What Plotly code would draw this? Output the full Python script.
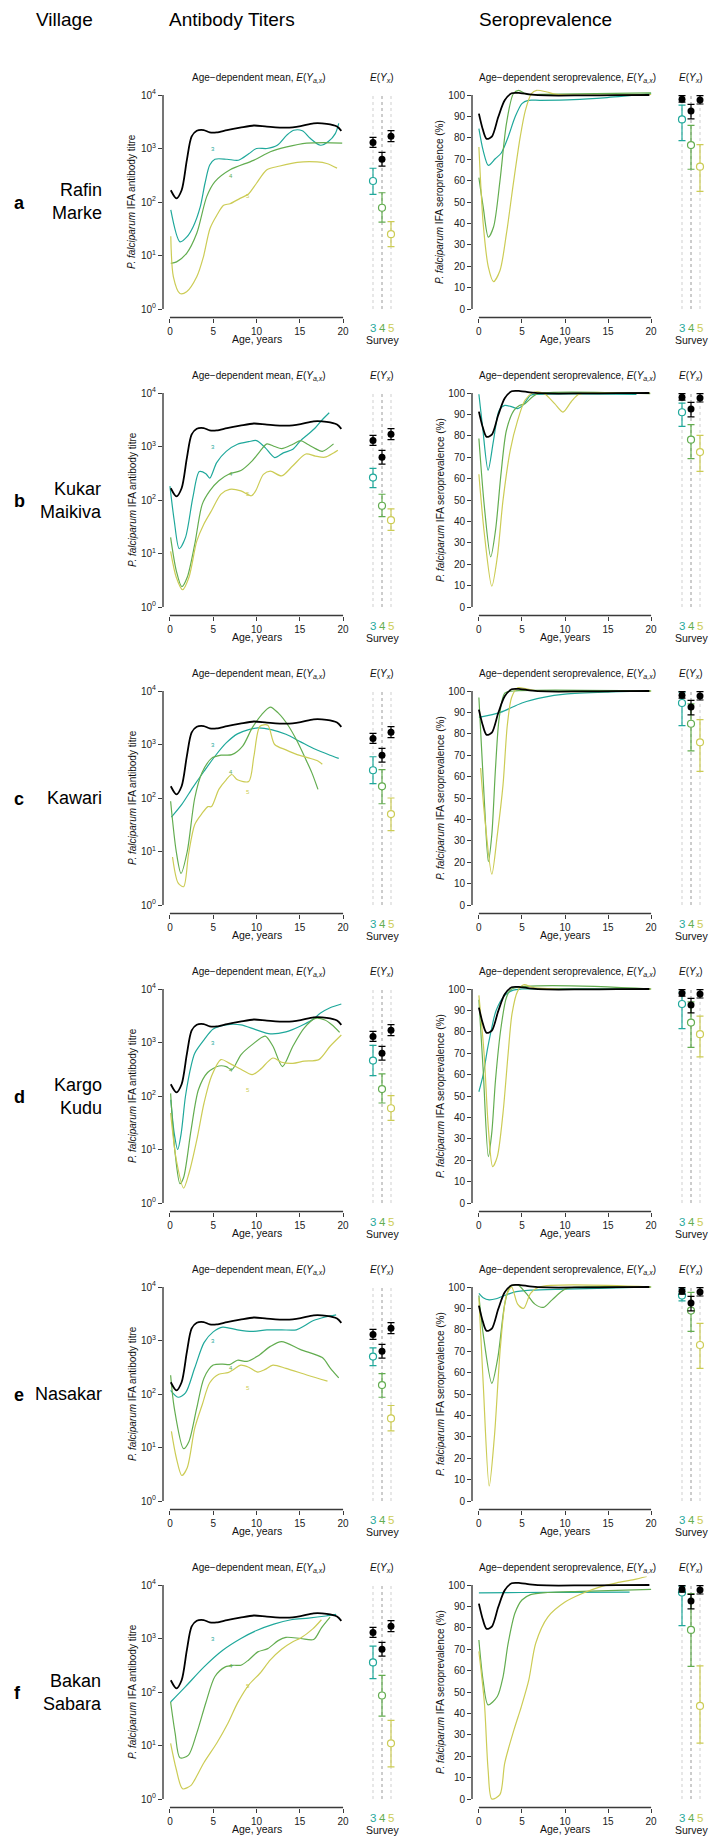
import math
import plotly.graph_objects as go

W, H = 711, 1837
FONT = "Liberation Sans, Arial, sans-serif"
BLACK = "#000000"
TEAL = "#1fa89b"
GREEN = "#63ad50"
YELLOW = "#cccc55"
SURVEY_COLORS = [TEAL, GREEN, YELLOW]

villages = ["Rafin<br>Marke", "Kukar<br>Maikiva", "Kawari", "Kargo<br>Kudu", "Nasakar", "Bakan<br>Sabara"]
letters = ["a", "b", "c", "d", "e", "f"]
surveys = [3, 4, 5]
x_ticks = [0, 5, 10, 15, 20]
titre_ticks = [1, 10, 100, 1000, 10000]
titre_ticktext = ["10<sup>0</sup>", "10<sup>1</sup>", "10<sup>2</sup>", "10<sup>3</sup>", "10<sup>4</sup>"]
sero_ticks = [0, 10, 20, 30, 40, 50, 60, 70, 80, 90, 100]

# ---- overall (black) curves, same in every village ----
all_titre_age = [0.1, 0.75, 1.35, 1.95, 2.5, 3.1, 3.9, 4.6, 5.4, 6.6, 8.1, 9.7, 11.2, 13.5, 15.1, 16.6, 18.1, 19.3, 19.8]
all_titre = [166, 117, 166, 600, 1660, 2140, 2210, 2000, 2000, 2210, 2450, 2690, 2570, 2450, 2630, 2950, 2880, 2570, 2140]
all_sero_age = [0, 0.45, 0.9, 1.5, 2.25, 3.0, 3.8, 4.8, 5.9, 7.9, 12, 16, 19.8]
all_sero = [91.3, 84, 79.5, 80.5, 89.7, 97.5, 100.8, 100.9, 100.3, 99.8, 99.8, 99.9, 100]
all_titre_survey = [1300, 630, 1700]
all_titre_survey_lo = [1050, 470, 1340]
all_titre_survey_hi = [1620, 850, 2150]
all_sero_survey = [98.0, 92.5, 97.7]
all_sero_survey_lo = [96.7, 88.8, 95.8]
all_sero_survey_hi = [99.7, 95.6, 99.7]

# ---- a: Rafin Marke ----
a_t3_age = [0.1, 1.16, 1.93, 2.7, 3.5, 4.05, 4.6, 5.2, 6.6, 7.9, 9.1, 10.0, 11.2, 12.4, 13.5, 14.3, 15.3, 16.2, 17.4, 18.3, 19.1, 19.5]
a_t3 = [71, 18, 22, 35, 81, 224, 490, 630, 630, 603, 794, 1000, 1000, 1150, 1780, 2190, 2140, 1550, 1150, 1350, 1900, 2950]
a_t4_age = [0.1, 0.77, 1.93, 3.1, 4.25, 5.2, 6.95, 9.65, 11.6, 13.5, 15.8, 17.8, 19.9]
a_t4 = [7.1, 7.6, 11, 26, 126, 240, 400, 600, 870, 1070, 1260, 1290, 1260]
a_t5_age = [0.1, 0.4, 1.16, 1.93, 3.1, 3.86, 4.63, 5.4, 6.2, 6.95, 8.1, 9.07, 10.0, 11.2, 12.7, 14.7, 17.0, 18.1, 19.3]
a_t5 = [23, 4, 1.95, 2.1, 4, 9.3, 32, 56, 87, 93, 117, 141, 224, 400, 470, 550, 560, 525, 430]
a_s3_age = [0, 0.5, 1.1, 1.9, 2.6, 3.4, 4.2, 5.0, 5.75, 7.1, 11, 14.9, 20]
a_s3 = [84.3, 74, 67.1, 70.2, 72.9, 80.4, 89.7, 96, 97.5, 97.5, 97.8, 98.8, 100.6]
a_s4_age = [0, 0.5, 1.1, 1.7, 2.45, 3.2, 4.0, 4.6, 5.55, 7.1, 20]
a_s4 = [61.4, 47.7, 33.6, 38.3, 60, 86.6, 100.6, 102.2, 100.3, 100.3, 101]
a_s5_age = [0, 0.5, 1.1, 1.7, 2.45, 3.2, 4.0, 4.8, 5.4, 6.1, 6.7, 7.9, 9.0, 20]
a_s5 = [75.7, 39.9, 19.6, 12.8, 18, 35.2, 58.6, 80.4, 92.8, 100.6, 102.2, 101.4, 100.3, 100.3]
a_titre_survey = [247, 78, 25]
a_titre_survey_lo = [139, 42, 14.6]
a_titre_survey_hi = [427, 149, 43]
a_sero_survey = [88.6, 76.6, 66.5]
a_sero_survey_lo = [78.7, 65.3, 55]
a_sero_survey_hi = [95.3, 85.8, 76.8]

# ---- b: Kukar Maikiva ----
b_t3_age = [0, 0.5, 1.07, 1.8, 2.65, 3.4, 4.15, 4.6, 5.4, 6.5, 7.8, 9.1, 10.0, 11.0, 12.1, 13.1, 14.2, 15.1, 15.9, 16.8, 17.6, 18.4]
b_t3 = [182, 41, 12.3, 20, 112, 340, 310, 257, 500, 810, 1100, 1230, 1290, 955, 620, 760, 890, 1290, 1660, 2240, 3160, 4270]
b_t4_age = [0.08, 0.73, 1.37, 2.0, 2.87, 3.73, 4.6, 5.65, 6.9, 8.2, 9.5, 10.4, 11.2, 12.1, 12.9, 14.2, 15.1, 15.9, 16.8, 17.6, 18.9]
b_t4 = [20, 4.8, 2.4, 3.6, 15, 83, 148, 229, 309, 355, 537, 813, 1120, 1000, 912, 1100, 1290, 1100, 912, 813, 1120]
b_t5_age = [0.08, 0.73, 1.46, 2.2, 3.1, 3.9, 4.8, 5.9, 6.9, 8.2, 9.4, 9.9, 10.8, 11.6, 12.9, 14.2, 15.7, 16.8, 17.9, 18.9, 19.4]
b_t5 = [11, 3.6, 2.1, 3.6, 17, 35, 63, 129, 158, 148, 120, 148, 302, 347, 282, 437, 724, 661, 631, 759, 851]
b_s3_age = [0, 0.43, 1.07, 1.7, 2.36, 3.0, 3.85, 4.5, 5.1, 6.0, 6.85, 18.3]
b_s3 = [99.4, 84.1, 63.9, 77.9, 91.9, 94.2, 93.5, 92.7, 94.2, 98.9, 99.4, 99.4]
b_s4_age = [0, 0.64, 1.37, 1.93, 2.57, 3.2, 4.07, 4.7, 5.35, 6.2, 6.85, 19.9]
b_s4 = [78.7, 46.7, 23.4, 35.8, 62.3, 82.6, 91.9, 94.2, 95, 98.1, 99.7, 99.7]
b_s5_age = [0, 0.64, 1.5, 2.14, 2.8, 3.64, 4.5, 5.35, 6.2, 6.85, 7.7, 8.8, 9.76, 10.7, 11.6, 13.3, 19.9]
b_s5 = [62, 34, 9.7, 23.4, 49.8, 73.2, 87.2, 96.6, 100, 100.5, 99.4, 95, 91.1, 95.8, 99.4, 100, 100]
b_titre_survey = [263, 78, 42]
b_titre_survey_lo = [171, 49, 27]
b_titre_survey_hi = [390, 128, 68]
b_sero_survey = [91, 78.2, 72.4]
b_sero_survey_lo = [84.4, 69.3, 63.4]
b_sero_survey_hi = [95.3, 85.2, 80.2]

# ---- c: Kawari ----
c_t3_age = [0.17, 1.37, 2.65, 3.94, 5.2, 6.5, 7.8, 9.1, 10.15, 11.7, 13.4, 15.1, 16.8, 18.5, 19.5]
c_t3 = [44, 76, 158, 316, 603, 1070, 1580, 1900, 2040, 1900, 1550, 1120, 813, 631, 550]
c_t4_age = [0.08, 0.73, 1.28, 2.0, 2.87, 3.7, 4.8, 5.9, 7.15, 8.4, 9.5, 10.6, 11.6, 12.5, 13.6, 14.7, 15.7, 16.4, 17.1]
c_t4 = [87, 10, 3.9, 10, 100, 295, 550, 631, 646, 933, 2040, 3630, 5010, 3890, 2340, 1150, 525, 295, 145]
c_t5_age = [0.3, 0.94, 1.58, 2.14, 2.87, 3.73, 4.4, 4.8, 5.65, 6.5, 7.15, 7.8, 9.1, 9.7, 10.4, 11.3, 12.1, 13.4, 14.7, 16.0, 17.1, 17.6]
c_t5 = [7.9, 2.6, 2.2, 8.7, 32, 52, 69, 69, 145, 219, 275, 219, 204, 603, 2190, 2290, 1000, 794, 646, 562, 490, 427]
c_s3_age = [0, 2.5, 5, 7.5, 10, 15, 20]
c_s3 = [87.7, 90, 94.4, 97, 98.5, 99.5, 100]
c_s4_age = [0, 0.64, 1.1, 1.5, 1.93, 2.36, 3.0, 4, 20]
c_s4 = [97, 48, 20.3, 32.8, 64, 87.4, 99, 100, 100]
c_s5_age = [0.2, 0.7, 1.5, 2.14, 2.8, 3.3, 3.8, 4.5, 5.5, 7, 20]
c_s5 = [64, 40, 14.4, 32.8, 56, 84, 97, 101.5, 101, 100, 100]
c_titre_survey = [330, 165, 50]
c_titre_survey_lo = [185, 78, 24.6]
c_titre_survey_hi = [590, 340, 100]
c_sero_survey = [94.4, 84.7, 76]
c_sero_survey_lo = [83.8, 72, 62.4]
c_sero_survey_hi = [99.5, 94, 86.6]

# ---- d: Kargo Kudu ----
d_t3_age = [0.1, 0.5, 0.9, 1.3, 1.8, 2.5, 2.87, 3.94, 5.0, 6.5, 8.2, 9.9, 11.6, 13.4, 15.1, 16.4, 17.4, 18.5, 19.8]
d_t3 = [85, 20, 10, 20, 100, 398, 631, 1120, 1780, 2140, 2140, 1740, 1450, 1580, 2040, 2630, 3550, 4470, 5250]
d_t4_age = [0.08, 0.6, 1.16, 1.58, 2.44, 3.3, 4.35, 5.65, 6.5, 7.15, 8.2, 9.5, 11.0, 11.9, 13.0, 14.2, 15.5, 16.8, 17.9, 18.7, 19.6]
d_t4 = [112, 8.5, 2.3, 3.0, 23, 132, 275, 363, 355, 309, 589, 912, 1320, 851, 355, 851, 1860, 2820, 2630, 2140, 1550]
d_t5_age = [0.08, 0.73, 1.58, 2.2, 3.1, 3.94, 4.8, 5.9, 6.9, 8.2, 9.5, 10.4, 11.9, 12.9, 14.2, 15.5, 17.2, 18.5, 19.8]
d_t5 = [48, 6.5, 1.9, 3.6, 15, 74, 234, 479, 407, 316, 251, 309, 513, 427, 407, 447, 479, 851, 1380]
d_s3_age = [0, 0.5, 1.0, 1.5, 2.0, 3.0, 4.0, 5.0, 20]
d_s3 = [52, 60, 72, 82, 90, 97, 99.5, 100, 100]
d_s4_age = [0, 0.5, 1.1, 1.5, 1.93, 2.57, 3.2, 3.8, 20]
d_s4 = [95, 62, 21.7, 33, 57.5, 82, 96, 100, 100]
d_s5_age = [0, 0.6, 1.1, 1.6, 2.14, 2.8, 3.4, 3.85, 4.5, 5.2, 6.5, 20]
d_s5 = [97, 70, 35, 17, 21.7, 42, 70, 88.5, 99, 102, 100.5, 100]
d_titre_survey = [460, 135, 59]
d_titre_survey_lo = [240, 74, 35]
d_titre_survey_hi = [880, 260, 102]
d_sero_survey = [93, 84.3, 78.9]
d_sero_survey_lo = [81.5, 72.7, 68.3]
d_sero_survey_hi = [98.5, 94, 87.3]

# ---- e: Nasakar ----
e_t3_age = [0.08, 0.94, 1.8, 2.87, 3.94, 5.0, 6.1, 7.8, 9.5, 11.2, 12.9, 14.6, 15.5, 16.4, 17.5, 18.5, 19.2]
e_t3 = [117, 87, 105, 309, 912, 1450, 1780, 1580, 1480, 1580, 1580, 1580, 1860, 2290, 2630, 2880, 3020]
e_t4_age = [0.08, 0.5, 1.58, 2.2, 3.1, 3.94, 5.0, 6.1, 6.9, 7.8, 8.9, 10.15, 11.6, 12.9, 15.1, 17.6, 18.5, 19.5]
e_t4 = [224, 55, 9.5, 13, 55, 200, 347, 363, 355, 427, 407, 513, 776, 955, 676, 479, 309, 200]
e_t5_age = [0.17, 0.73, 1.37, 2.0, 2.87, 3.73, 4.6, 5.65, 6.7, 7.35, 8.2, 9.1, 10.15, 11.0, 11.9, 13.4, 15.9, 18.2]
e_t5 = [20, 6.5, 3.0, 4.2, 23, 63, 162, 234, 251, 288, 347, 316, 257, 288, 347, 302, 224, 174]
e_s3_age = [0, 0.5, 1.2, 2.0, 3, 4, 6, 10, 15, 20]
e_s3 = [97, 95, 94, 94.5, 96, 97.5, 98.5, 99, 99.5, 100]
e_s4_age = [0, 0.5, 1.5, 2.2, 3.0, 3.6, 4.5, 5.5, 6.5, 7.5, 8.5, 10, 12, 20]
e_s4 = [96, 78, 55, 67, 92, 100, 101, 97, 92, 90.5, 94, 99, 100, 100]
e_s5_age = [0, 0.5, 1.2, 1.8, 2.5, 3.2, 3.8, 4.5, 5.2, 6, 7, 20]
e_s5 = [95, 55, 7, 30, 72, 96, 100, 92, 90, 97, 100, 100]
e_titre_survey = [500, 147, 35]
e_titre_survey_lo = [340, 87, 20.5]
e_titre_survey_hi = [730, 240, 61]
e_sero_survey = [96, 89, 72.9]
e_sero_survey_lo = [93.5, 79.3, 62]
e_sero_survey_hi = [99, 97.5, 83]

# ---- f: Bakan Sabara ----
f_t3_age = [0.08, 1.8, 3.94, 6.1, 8.2, 10, 12, 14, 16, 18, 19.2]
f_t3 = [65, 126, 295, 603, 1000, 1410, 1860, 2240, 2400, 2630, 2820]
f_t4_age = [0.08, 0.6, 1.16, 2.14, 3.1, 4.15, 5.2, 6.4, 7.35, 8.2, 9.1, 10.15, 11.3, 12.5, 13.4, 15.1, 16.6, 17.5, 18.5]
f_t4 = [65, 17, 5.9, 6.6, 17, 63, 195, 295, 316, 316, 398, 562, 646, 912, 1050, 1000, 955, 1580, 2510]
f_t5_age = [0.08, 0.73, 1.46, 2.44, 2.87, 3.94, 5.4, 6.7, 7.8, 9.1, 10.4, 11.6, 12.9, 14.2, 15.1, 16.5, 17.5]
f_t5 = [11, 3.6, 1.55, 1.8, 2.3, 4.8, 11, 26, 62, 135, 224, 398, 631, 871, 1020, 1510, 2240]
f_s3_age = [0, 5, 10, 17.5]
f_s3 = [96.3, 96.5, 96.6, 96.7]
f_s4_age = [0, 0.5, 1.07, 2.14, 2.8, 3.4, 4.2, 5, 6, 8, 12, 16, 20]
f_s4 = [74.3, 55, 44, 47.9, 57, 72.8, 87, 93, 95.5, 96.5, 97, 97.5, 98]
f_s5_age = [0, 0.64, 1.07, 1.5, 2.44, 3.0, 4.07, 4.93, 5.8, 6.6, 8, 10, 12, 14, 16, 18, 19.5]
f_s5 = [69, 44.8, 13.7, 0, 2, 16.8, 32.3, 43.2, 55.7, 72.8, 85, 92, 96, 99, 101, 102.5, 104]
f_titre_survey = [357, 86, 11]
f_titre_survey_lo = [178, 35.5, 4]
f_titre_survey_hi = [720, 204, 29.5]
f_sero_survey = [96.5, 79, 43.5]
f_sero_survey_lo = [81, 62, 26.1]
f_sero_survey_hi = [99.5, 96, 62.2]

# curve label positions (small survey numbers on the titre panels)
label_age = [5, 7, 9]
label_titre = [1000, 300, 130]

rows = [
    ([(a_t3_age, a_t3), (a_t4_age, a_t4), (a_t5_age, a_t5)], [(a_s3_age, a_s3), (a_s4_age, a_s4), (a_s5_age, a_s5)],
     (a_titre_survey, a_titre_survey_lo, a_titre_survey_hi), (a_sero_survey, a_sero_survey_lo, a_sero_survey_hi)),
    ([(b_t3_age, b_t3), (b_t4_age, b_t4), (b_t5_age, b_t5)], [(b_s3_age, b_s3), (b_s4_age, b_s4), (b_s5_age, b_s5)],
     (b_titre_survey, b_titre_survey_lo, b_titre_survey_hi), (b_sero_survey, b_sero_survey_lo, b_sero_survey_hi)),
    ([(c_t3_age, c_t3), (c_t4_age, c_t4), (c_t5_age, c_t5)], [(c_s3_age, c_s3), (c_s4_age, c_s4), (c_s5_age, c_s5)],
     (c_titre_survey, c_titre_survey_lo, c_titre_survey_hi), (c_sero_survey, c_sero_survey_lo, c_sero_survey_hi)),
    ([(d_t3_age, d_t3), (d_t4_age, d_t4), (d_t5_age, d_t5)], [(d_s3_age, d_s3), (d_s4_age, d_s4), (d_s5_age, d_s5)],
     (d_titre_survey, d_titre_survey_lo, d_titre_survey_hi), (d_sero_survey, d_sero_survey_lo, d_sero_survey_hi)),
    ([(e_t3_age, e_t3), (e_t4_age, e_t4), (e_t5_age, e_t5)], [(e_s3_age, e_s3), (e_s4_age, e_s4), (e_s5_age, e_s5)],
     (e_titre_survey, e_titre_survey_lo, e_titre_survey_hi), (e_sero_survey, e_sero_survey_lo, e_sero_survey_hi)),
    ([(f_t3_age, f_t3), (f_t4_age, f_t4), (f_t5_age, f_t5)], [(f_s3_age, f_s3), (f_s4_age, f_s4), (f_s5_age, f_s5)],
     (f_titre_survey, f_titre_survey_lo, f_titre_survey_hi), (f_sero_survey, f_sero_survey_lo, f_sero_survey_hi)),
]

# ---------------- layout geometry (pixels) ----------------
ROW_TOP0, ROW_STEP, PLOT_H = 95, 298, 214
PAD_Y = 0.04 * PLOT_H
LEFT_DOM = (163, 350)
LSURV_DOM = (364, 400)
RIGHT_DOM = (472, 658)
RSURV_DOM = (673, 709)


def px(x):
    return x / W


def py(y):
    return 1 - y / H


fig = go.Figure()
layout = dict(width=W, height=H, margin=dict(l=0, r=0, t=0, b=0), paper_bgcolor="white",
              plot_bgcolor="rgba(0,0,0,0)", showlegend=False, font=dict(family=FONT, color="#222"))
shapes, annotations = [], []
TICKFONT = dict(family=FONT, size=10, color="#222")
AXCOL = "#3a3a3a"


def axname(k):
    return "" if k == 1 else str(k)


def ann(**kw):
    d = dict(showarrow=False, xanchor="center", yanchor="middle")
    d.update(kw)
    annotations.append(d)


for i, (titre_curves, sero_curves, tsurv, ssurv) in enumerate(rows):
    ytop = ROW_TOP0 + ROW_STEP * i
    ybot = ytop + PLOT_H
    ydom = [py(ybot + PAD_Y), py(ytop - PAD_Y)]
    yc = (ytop + ybot) / 2
    k1, k2, k3, k4 = 4 * i + 1, 4 * i + 2, 4 * i + 3, 4 * i + 4
    for k, dom, xr in [(k1, LEFT_DOM, [-0.8, 20.8]), (k2, LSURV_DOM, [2, 6]),
                       (k3, RIGHT_DOM, [-0.8, 20.8]), (k4, RSURV_DOM, [2, 6])]:
        is_plot = k in (k1, k3)
        layout["xaxis" + axname(k)] = dict(
            domain=[px(dom[0]), px(dom[1])], range=xr, anchor="y" + axname(k),
            showgrid=False, zeroline=False, showline=False,
            ticks="outside" if is_plot else "", ticklen=4, tickwidth=1, tickcolor=AXCOL,
            tickvals=x_ticks if is_plot else [], showticklabels=is_plot, tickfont=TICKFONT,
            fixedrange=True)
        if k in (k1, k2):
            yax = dict(type="log", range=[-0.16, 4.16], tickvals=titre_ticks, ticktext=titre_ticktext)
        else:
            yax = dict(range=[-4, 104], tickvals=sero_ticks)
        yax.update(domain=ydom, anchor="x" + axname(k), showgrid=False, zeroline=False, showline=False,
                   ticks="outside" if is_plot else "", ticklen=4, tickwidth=1, tickcolor=AXCOL,
                   showticklabels=is_plot, tickfont=TICKFONT, fixedrange=True)
        if not is_plot:
            yax["tickvals"] = []
        layout["yaxis" + axname(k)] = yax

    # axis lines
    for k, ylo, yhi in [(k1, 1, 10000), (k3, 0, 100)]:
        xa, ya = "x" + axname(k), "y" + axname(k)
        shapes.append(dict(type="line", xref=xa, yref=ya + " domain", x0=0, x1=20, y0=0, y1=0,
                           line=dict(color=AXCOL, width=1.4)))
        shapes.append(dict(type="line", xref=xa + " domain", yref=ya, x0=0, x1=0, y0=ylo, y1=yhi,
                           line=dict(color="#666", width=1.8)))
    # dashed survey guides
    for k, ylo, yhi in [(k2, 1, 10000), (k4, 0, 100)]:
        for s in surveys:
            shapes.append(dict(type="line", xref="x" + axname(k), yref="y" + axname(k), x0=s, x1=s,
                               y0=ylo, y1=yhi, layer="below",
                               line=dict(color="#9a9a9a" if s == 4 else "#cfcfcf", width=1, dash="3px,3px")))

    # titre curves
    for (ages, vals), col in zip(titre_curves, SURVEY_COLORS):
        fig.add_trace(go.Scatter(x=ages, y=vals, mode="lines", line=dict(color=col, width=1.2, shape="spline", smoothing=0.8),
                                 xaxis="x" + axname(k1), yaxis="y" + axname(k1), hoverinfo="skip"))
    fig.add_trace(go.Scatter(x=all_titre_age, y=all_titre, mode="lines",
                             line=dict(color=BLACK, width=1.8, shape="spline", smoothing=0.8),
                             xaxis="x" + axname(k1), yaxis="y" + axname(k1), hoverinfo="skip"))
    # sero curves
    for (ages, vals), col in zip(sero_curves, SURVEY_COLORS):
        fig.add_trace(go.Scatter(x=ages, y=vals, mode="lines", line=dict(color=col, width=1.2, shape="spline", smoothing=0.8),
                                 xaxis="x" + axname(k3), yaxis="y" + axname(k3), hoverinfo="skip"))
    fig.add_trace(go.Scatter(x=all_sero_age, y=all_sero, mode="lines",
                             line=dict(color=BLACK, width=1.8, shape="spline", smoothing=0.8),
                             xaxis="x" + axname(k3), yaxis="y" + axname(k3), hoverinfo="skip"))

    # survey means
    for k, (vals, lo, hi), (bv, blo, bhi) in [
        (k2, tsurv, (all_titre_survey, all_titre_survey_lo, all_titre_survey_hi)),
        (k4, ssurv, (all_sero_survey, all_sero_survey_lo, all_sero_survey_hi))]:
        for j, s in enumerate(surveys):
            col = SURVEY_COLORS[j]
            fig.add_trace(go.Scatter(
                x=[s], y=[vals[j]], mode="markers",
                marker=dict(symbol="circle", size=7, color="white", line=dict(color=col, width=1.2)),
                error_y=dict(type="data", symmetric=False, array=[hi[j] - vals[j]], arrayminus=[vals[j] - lo[j]],
                             color=col, thickness=1.2, width=3.5),
                xaxis="x" + axname(k), yaxis="y" + axname(k), hoverinfo="skip", cliponaxis=False))
        fig.add_trace(go.Scatter(
            x=surveys, y=bv, mode="markers", marker=dict(symbol="circle", size=7, color=BLACK),
            error_y=dict(type="data", symmetric=False, array=[h - v for h, v in zip(bhi, bv)],
                         arrayminus=[v - l for v, l in zip(bv, blo)], color=BLACK, thickness=1.2, width=3.5),
            xaxis="x" + axname(k), yaxis="y" + axname(k), hoverinfo="skip", cliponaxis=False))

    # small curve labels
    for j, s in enumerate(surveys):
        ann(x=label_age[j], y=math.log10(label_titre[j]), xref="x" + axname(k1), yref="y" + axname(k1),
            text=str(s), font=dict(family=FONT, size=6, color=SURVEY_COLORS[j]))

    # texts
    for xc, title in [((LEFT_DOM[0] + LEFT_DOM[1]) / 2 + 2, "Age\u2212dependent mean, <i>E</i>(<i>Y</i><sub><i>a,x</i></sub>)"),
                      ((RIGHT_DOM[0] + RIGHT_DOM[1]) / 2 + 2, "Age\u2212dependent seroprevalence, <i>E</i>(<i>Y</i><sub><i>a,x</i></sub>)")]:
        ann(x=px(xc), y=py(ytop - 17), xref="paper", yref="paper", text=title,
            font=dict(family=FONT, size=10, color="#111"))
    for xc in ((LEFT_DOM[0] + LEFT_DOM[1]) / 2, (RIGHT_DOM[0] + RIGHT_DOM[1]) / 2):
        ann(x=px(xc), y=py(ybot + 30), xref="paper", yref="paper", text="Age, years",
            font=dict(family=FONT, size=10.5, color="#111"))
    for k in (k2, k4):
        ann(x=4, y=py(ytop - 17), xref="x" + axname(k), yref="paper",
            text="<i>E</i>(<i>Y</i><sub><i>x</i></sub>)", font=dict(family=FONT, size=10, color="#111"))
        for j, s in enumerate(surveys):
            ann(x=s, y=py(ybot + 19), xref="x" + axname(k), yref="paper", text=str(s),
                font=dict(family=FONT, size=11.5, color=SURVEY_COLORS[j]))
        ann(x=4, y=py(ybot + 31), xref="x" + axname(k), yref="paper", text="Survey",
            font=dict(family=FONT, size=10.5, color="#111"))
    ann(x=px(132), y=py(yc), xref="paper", yref="paper", textangle=-90,
        text="<i>P. falciparum</i> IFA antibody titre", font=dict(family=FONT, size=10, color="#111"))
    ann(x=px(440), y=py(yc), xref="paper", yref="paper", textangle=-90,
        text="<i>P. falciparum</i> IFA seroprevalence (%)", font=dict(family=FONT, size=10, color="#111"))
    ann(x=px(104), y=py(yc), xref="paper", yref="paper", xanchor="right",
        text=villages[i], align="right", font=dict(family=FONT, size=18, color="#000"))
    ann(x=px(12), y=py(yc + 1), xref="paper", yref="paper", xanchor="left",
        text="<b>" + letters[i] + "</b>", font=dict(family=FONT, size=18, color="#000"))

for txt, xc in [("Village", 64), ("Antibody Titers", 232), ("Seroprevalence", 545)]:
    ann(x=px(xc), y=py(19), xref="paper", yref="paper", text=txt, font=dict(family=FONT, size=19, color="#000"))

layout["shapes"] = shapes
layout["annotations"] = annotations
fig.update_layout(**layout)
fig.write_html("out.html")
